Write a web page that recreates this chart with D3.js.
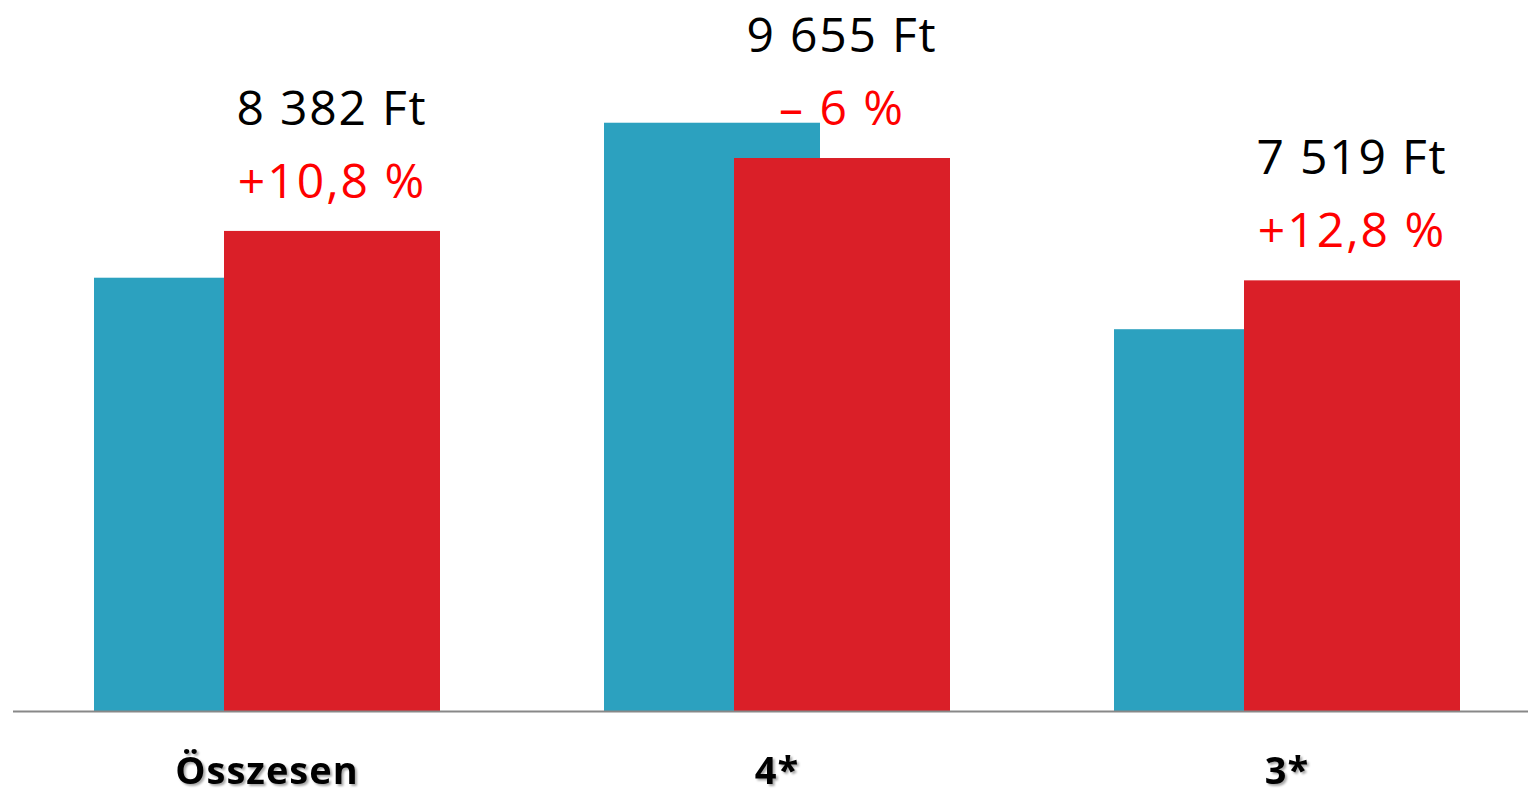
<!DOCTYPE html>
<html>
<head>
<meta charset="utf-8">
<script src="https://cdn.jsdelivr.net/npm/d3@7"></script>
<style>
  html, body { margin: 0; padding: 0; background: #fff; }
  svg { display: block; }
</style>
</head>
<body>
<svg id="chart"></svg>
<script>
// data
const categories = ['Összesen', '4*', '3*'];
const prevValues = [7565, 10271, 6666];   // teal, previous period
const currValues = [8382, 9655, 7519];    // red, current period
const valueLabels = ['8 382 Ft', '9 655 Ft', '7 519 Ft'];
const changeLabels = ['+10,8 %', '\u2013 6 %', '+12,8 %'];

const width = 1528, height = 795;
const baseline = 711;

const svg = d3.select('#chart')
  .attr('width', width)
  .attr('height', height);

// soft shadow for the category labels
const defs = svg.append('defs');
defs.append('filter')
  .attr('id', 'shadow')
  .attr('x', '-10%').attr('y', '-10%')
  .attr('width', '130%').attr('height', '140%')
  .append('feDropShadow')
  .attr('dx', 2).attr('dy', 2)
  .attr('stdDeviation', 1.2)
  .attr('flood-color', '#000')
  .attr('flood-opacity', 0.35);

const xscale = d3.scaleBand()
  .domain(categories)
  .range([12, 1542])
  .paddingInner(0)
  .paddingOuter(0);

const yscale = d3.scaleLinear()
  .domain([0, 12000])
  .range([baseline, baseline - 687.3]);

const barW = 216;
const offset = 130;   // red bar is shifted right over the teal one
const groupStart = c => xscale(c) + xscale.bandwidth() / 2 - (barW + offset) / 2;

const rows = categories.map((c, i) => ({
  cat: c, prev: prevValues[i], curr: currValues[i],
  vlabel: valueLabels[i], clabel: changeLabels[i]
}));

// teal bars
svg.append('g').selectAll('rect')
  .data(rows)
  .join('rect')
  .attr('x', d => groupStart(d.cat))
  .attr('y', d => yscale(d.prev))
  .attr('width', barW)
  .attr('height', d => baseline - yscale(d.prev))
  .attr('fill', '#2ca1bf');

// red bars
svg.append('g').selectAll('rect')
  .data(rows)
  .join('rect')
  .attr('x', d => groupStart(d.cat) + offset)
  .attr('y', d => yscale(d.curr))
  .attr('width', barW)
  .attr('height', d => baseline - yscale(d.curr))
  .attr('fill', '#da1f28');

// x axis
const xaxis = d3.axisBottom(xscale).tickSize(0).tickPadding(0);
const xaxis_group = svg.append('g')
  .attr('transform', `translate(0, ${baseline})`)
  .call(xaxis);

xaxis_group.select('.domain')
  .attr('d', `M13,0.5H${width}`)
  .attr('stroke', '#888')
  .attr('stroke-width', 2);

xaxis_group.selectAll('.tick text')
  .attr('y', 73)
  .attr('dy', 0)
  .attr('fill', '#000')
  .style('font-family', '"Open Sans", "Noto Sans", sans-serif')
  .style('font-weight', 'bold')
  .style('font-size', '38px')
  .style('letter-spacing', '1px')
  .attr('filter', 'url(#shadow)');

// labels above the red bars
const labels = svg.append('g')
  .style('font-family', '"Open Sans", "Noto Sans", sans-serif')
  .style('font-size', '48px')
  .attr('text-anchor', 'middle');

labels.selectAll('text.value')
  .data(rows)
  .join('text')
  .attr('class', 'value')
  .attr('x', d => groupStart(d.cat) + offset + barW / 2)
  .attr('y', d => yscale(d.curr) - 106)
  .attr('fill', '#000')
  .style('letter-spacing', '1.8px')
  .text(d => d.vlabel);

labels.selectAll('text.change')
  .data(rows)
  .join('text')
  .attr('class', 'change')
  .attr('x', d => groupStart(d.cat) + offset + barW / 2)
  .attr('y', d => yscale(d.curr) - 33)
  .attr('fill', '#ff0000')
  .style('letter-spacing', '2px')
  .text(d => d.clabel);
</script>
</body>
</html>
